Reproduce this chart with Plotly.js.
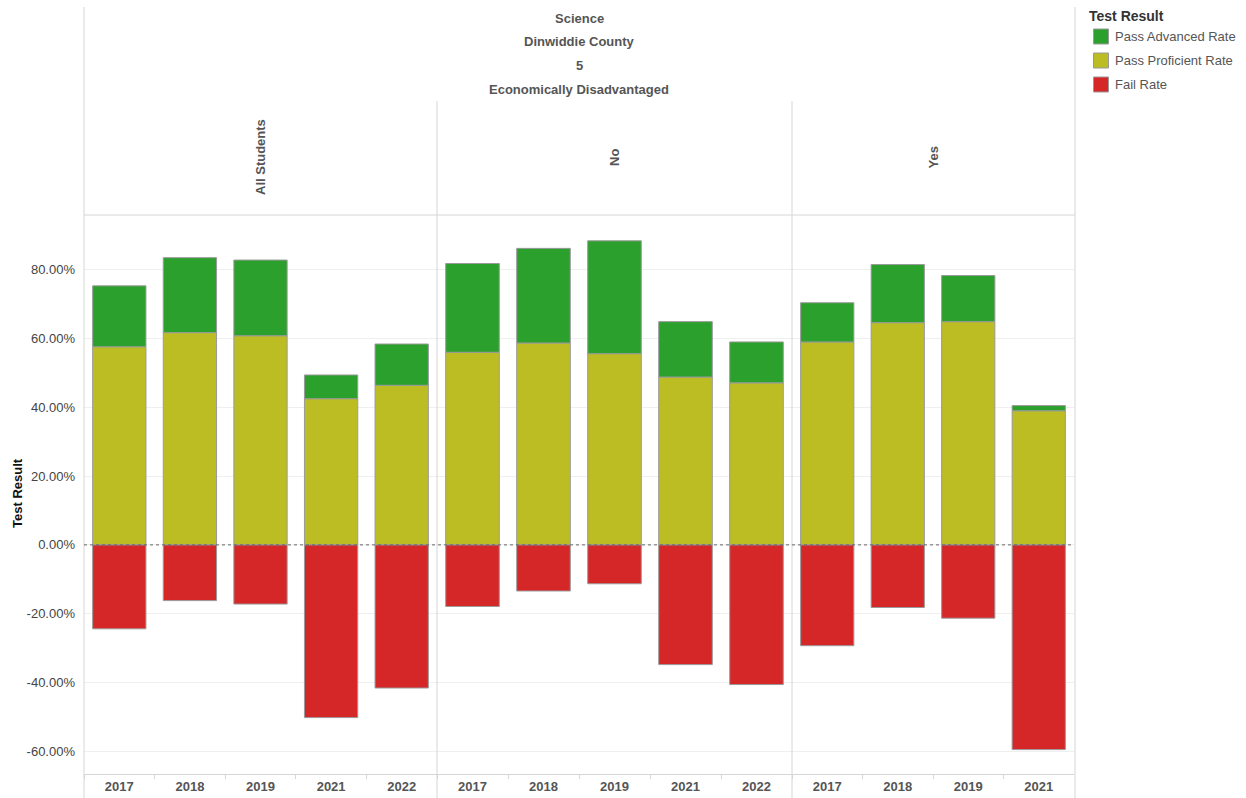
<!DOCTYPE html>
<html>
<head>
<meta charset="utf-8">
<script src="https://cdn.plot.ly/plotly-3.0.1.min.js"></script>
<style>
  html, body { margin: 0; padding: 0; background: #fff; }
  #chart { width: 1246px; height: 798px; }
</style>
</head>
<body>
<div id="chart"></div>
<script>
// values (percent)
const groups = ["All Students", "No", "Yes"];
const years = ["2017", "2018", "2019", "2021", "2022"];
const yearsYes = ["2017", "2018", "2019", "2021"];

const allProficient = [57.6, 61.7, 60.8, 42.5, 46.4];
const allAdvanced = [17.7, 21.8, 22.0, 6.9, 12.0];
const allFail = [-24.4, -16.2, -17.2, -50.2, -41.6];

const noProficient = [56.0, 58.7, 55.6, 48.8, 47.1];
const noAdvanced = [25.8, 27.5, 32.8, 16.1, 11.9];
const noFail = [-17.9, -13.4, -11.3, -34.8, -40.6];

const yesProficient = [59.0, 64.6, 64.9, 39.0];
const yesAdvanced = [11.4, 16.9, 13.4, 1.5];
const yesFail = [-29.3, -18.2, -21.3, -59.5];

const seriesNames = ["Pass Advanced Rate", "Pass Proficient Rate", "Fail Rate"];
const seriesColors = ["#2ca02c", "#bcbd22", "#d62728"];

const yTicks = [-60, -40, -20, 0, 20, 40, 60, 80];
const yTickLabels = ["-60.00%", "-40.00%", "-20.00%", "0.00%", "20.00%", "40.00%", "60.00%", "80.00%"];

const headerLines = ["Science", "Dinwiddie County", "5", "Economically Disadvantaged"];

// plot area in pixels: x 84..1074, y 215..774
const L = 84, R = 1074, T = 215, B = 774;
const px = (v) => (v - L) / (R - L);
const py = (v) => (B - v) / (B - T);

const panels = [
  { x: years, adv: allAdvanced, prof: allProficient, fail: allFail, xa: "x" },
  { x: years, adv: noAdvanced, prof: noProficient, fail: noFail, xa: "x2" },
  { x: yearsYes, adv: yesAdvanced, prof: yesProficient, fail: yesFail, xa: "x3" },
];

const barStyle = (i) => ({ color: seriesColors[i], line: { color: "#9a9a9a", width: 1 } });

const traces = [];
panels.forEach((p) => {
  // proficient first so it sits at the bottom of the positive stack
  traces.push({ type: "bar", name: seriesNames[1], x: p.x, y: p.prof, xaxis: p.xa, yaxis: "y", marker: barStyle(1), showlegend: false });
  traces.push({ type: "bar", name: seriesNames[0], x: p.x, y: p.adv, xaxis: p.xa, yaxis: "y", marker: barStyle(0), showlegend: false });
  traces.push({ type: "bar", name: seriesNames[2], x: p.x, y: p.fail, xaxis: p.xa, yaxis: "y", marker: barStyle(2), showlegend: false });
});

const d1 = px(437), d2 = px(792);
const xBase = {
  type: "category",
  anchor: "y",
  showgrid: false,
  showline: true,
  linecolor: "#d6d6d6",
  ticks: "outside",
  tickson: "boundaries",
  ticklen: 4,
  tickcolor: "#d6d6d6",
  tickfont: { size: 13, color: "#555", weight: "bold" },
  fixedrange: true,
};

const lineColor = "#d6d6d6";
const shapes = [
  { type: "line", xref: "paper", yref: "paper", x0: 0, x1: 0, y0: py(798), y1: py(7), line: { color: lineColor, width: 1 } },
  { type: "line", xref: "paper", yref: "paper", x0: d1, x1: d1, y0: py(798), y1: py(101), line: { color: lineColor, width: 1 } },
  { type: "line", xref: "paper", yref: "paper", x0: d2, x1: d2, y0: py(798), y1: py(101), line: { color: lineColor, width: 1 } },
  { type: "line", xref: "paper", yref: "paper", x0: px(1075), x1: px(1075), y0: py(798), y1: py(7), line: { color: lineColor, width: 1 } },
  { type: "line", xref: "paper", yref: "paper", x0: 0, x1: px(1075), y0: 1, y1: 1, line: { color: lineColor, width: 1 } },
  { type: "line", xref: "paper", yref: "y", x0: 0, x1: 1, y0: 0, y1: 0, line: { color: "#666", width: 1, dash: "dot" }, layer: "above" },
];

const annotations = [];
headerLines.forEach((t, i) => {
  annotations.push({
    text: "<b>" + t + "</b>", xref: "paper", yref: "paper", x: px(579), y: py(18 + i * 23.7),
    showarrow: false, xanchor: "center", yanchor: "middle", font: { size: 13, color: "#555" },
  });
});
const panelCenters = [px((L + 437) / 2), px((437 + 792) / 2), px((792 + R) / 2)];
groups.forEach((g, i) => {
  annotations.push({
    text: "<b>" + g + "</b>", xref: "paper", yref: "paper", x: panelCenters[i], y: py(157.5),
    showarrow: false, textangle: -90, xanchor: "center", yanchor: "middle", font: { size: 13, color: "#555" },
  });
});
annotations.push({
  text: "<b>Test Result</b>", xref: "paper", yref: "paper", x: px(17), y: py(493),
  showarrow: false, textangle: -90, xanchor: "center", yanchor: "middle", font: { size: 13, color: "#111" },
});

// legend drawn by hand to match the Tableau layout
annotations.push({
  text: "<b>Test Result</b>", xref: "paper", yref: "paper", x: px(1087), y: py(16),
  showarrow: false, xanchor: "left", yanchor: "middle", font: { size: 14, color: "#333" },
});
seriesNames.forEach((n, i) => {
  const cy = 36.5 + i * 24;
  shapes.push({
    type: "rect", xref: "paper", yref: "paper", x0: px(1093.5), x1: px(1108.5), y0: py(cy + 7.5), y1: py(cy - 7.5),
    fillcolor: seriesColors[i], line: { color: "#9a9a9a", width: 1 },
  });
  annotations.push({
    text: n, xref: "paper", yref: "paper", x: px(1113), y: py(cy),
    showarrow: false, xanchor: "left", yanchor: "middle", font: { size: 13, color: "#555" },
  });
});

const layout = {
  width: 1246,
  height: 798,
  margin: { l: L, r: 1246 - R, t: T, b: 798 - B },
  paper_bgcolor: "#fff",
  plot_bgcolor: "#fff",
  font: { family: "Liberation Sans, Arial, sans-serif", color: "#555" },
  barmode: "relative",
  bargap: 0.245,
  showlegend: false,
  xaxis: Object.assign({}, xBase, { domain: [0, d1], range: [-0.5, 4.5] }),
  xaxis2: Object.assign({}, xBase, { domain: [d1, d2], range: [-0.5, 4.5] }),
  xaxis3: Object.assign({}, xBase, { domain: [d2, 1], range: [-0.5, 3.5] }),
  yaxis: {
    range: [-66.6, 95.9],
    tickvals: yTicks,
    ticktext: yTickLabels,
    showgrid: true,
    gridcolor: "#efefef",
    zeroline: false,
    showline: false,
    ticks: "",
    ticklabelstandoff: 8,
    tickfont: { size: 13, color: "#444" },
    fixedrange: true,
  },
  shapes,
  annotations,
};

Plotly.newPlot("chart", traces, layout, { displayModeBar: false, staticPlot: true });
</script>
</body>
</html>
